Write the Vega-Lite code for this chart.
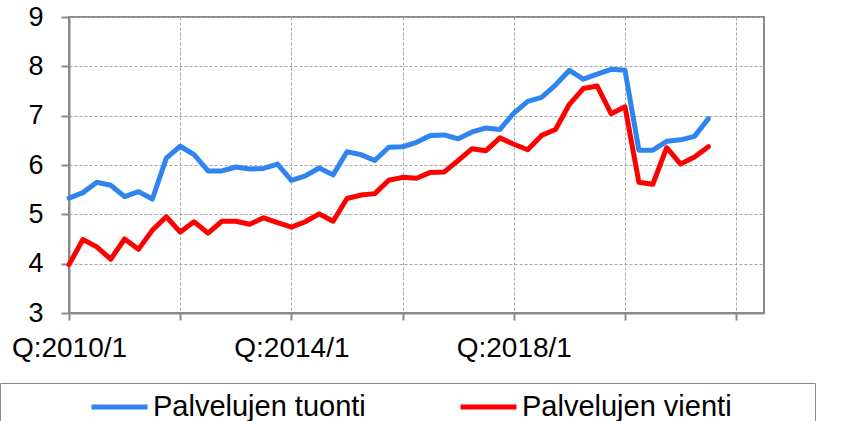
{
  "$schema": "https://vega.github.io/schema/vega-lite/v6.json",
  "width": 695,
  "height": 296,
  "autosize": "none",
  "padding": {"left": 69, "top": 17, "right": 90, "bottom": 108},
  "background": "white",
  "config": {
    "font": "Liberation Sans",
    "view": {"stroke": "#8a8a8a", "strokeWidth": 2},
    "axis": {
      "domainColor": "#8a8a8a",
      "domainWidth": 2,
      "tickColor": "#8a8a8a",
      "tickWidth": 2,
      "gridColor": "#a6a6a6",
      "gridDash": [3, 2],
      "gridWidth": 1,
      "labelColor": "#000000",
      "labelFontSize": 27,
      "labelFont": "Liberation Sans",
      "title": null
    }
  },
  "data": {
    "values": [
      {"t": 0, "quarter": "2010/1", "Palvelujen tuonti": 5.33, "Palvelujen vienti": 3.98},
      {"t": 1, "quarter": "2010/2", "Palvelujen tuonti": 5.44, "Palvelujen vienti": 4.49},
      {"t": 2, "quarter": "2010/3", "Palvelujen tuonti": 5.65, "Palvelujen vienti": 4.34},
      {"t": 3, "quarter": "2010/4", "Palvelujen tuonti": 5.59, "Palvelujen vienti": 4.09},
      {"t": 4, "quarter": "2011/1", "Palvelujen tuonti": 5.36, "Palvelujen vienti": 4.50},
      {"t": 5, "quarter": "2011/2", "Palvelujen tuonti": 5.46, "Palvelujen vienti": 4.29},
      {"t": 6, "quarter": "2011/3", "Palvelujen tuonti": 5.31, "Palvelujen vienti": 4.68},
      {"t": 7, "quarter": "2011/4", "Palvelujen tuonti": 6.14, "Palvelujen vienti": 4.95},
      {"t": 8, "quarter": "2012/1", "Palvelujen tuonti": 6.38, "Palvelujen vienti": 4.64},
      {"t": 9, "quarter": "2012/2", "Palvelujen tuonti": 6.21, "Palvelujen vienti": 4.85},
      {"t": 10, "quarter": "2012/3", "Palvelujen tuonti": 5.88, "Palvelujen vienti": 4.62},
      {"t": 11, "quarter": "2012/4", "Palvelujen tuonti": 5.88, "Palvelujen vienti": 4.86},
      {"t": 12, "quarter": "2013/1", "Palvelujen tuonti": 5.96, "Palvelujen vienti": 4.86},
      {"t": 13, "quarter": "2013/2", "Palvelujen tuonti": 5.92, "Palvelujen vienti": 4.80},
      {"t": 14, "quarter": "2013/3", "Palvelujen tuonti": 5.93, "Palvelujen vienti": 4.93},
      {"t": 15, "quarter": "2013/4", "Palvelujen tuonti": 6.02, "Palvelujen vienti": 4.83},
      {"t": 16, "quarter": "2014/1", "Palvelujen tuonti": 5.69, "Palvelujen vienti": 4.74},
      {"t": 17, "quarter": "2014/2", "Palvelujen tuonti": 5.78, "Palvelujen vienti": 4.85},
      {"t": 18, "quarter": "2014/3", "Palvelujen tuonti": 5.94, "Palvelujen vienti": 5.01},
      {"t": 19, "quarter": "2014/4", "Palvelujen tuonti": 5.80, "Palvelujen vienti": 4.86},
      {"t": 20, "quarter": "2015/1", "Palvelujen tuonti": 6.27, "Palvelujen vienti": 5.32},
      {"t": 21, "quarter": "2015/2", "Palvelujen tuonti": 6.21, "Palvelujen vienti": 5.39},
      {"t": 22, "quarter": "2015/3", "Palvelujen tuonti": 6.09, "Palvelujen vienti": 5.42},
      {"t": 23, "quarter": "2015/4", "Palvelujen tuonti": 6.36, "Palvelujen vienti": 5.69},
      {"t": 24, "quarter": "2016/1", "Palvelujen tuonti": 6.37, "Palvelujen vienti": 5.75},
      {"t": 25, "quarter": "2016/2", "Palvelujen tuonti": 6.46, "Palvelujen vienti": 5.73},
      {"t": 26, "quarter": "2016/3", "Palvelujen tuonti": 6.60, "Palvelujen vienti": 5.85},
      {"t": 27, "quarter": "2016/4", "Palvelujen tuonti": 6.61, "Palvelujen vienti": 5.86},
      {"t": 28, "quarter": "2017/1", "Palvelujen tuonti": 6.53, "Palvelujen vienti": 6.09},
      {"t": 29, "quarter": "2017/2", "Palvelujen tuonti": 6.67, "Palvelujen vienti": 6.33},
      {"t": 30, "quarter": "2017/3", "Palvelujen tuonti": 6.75, "Palvelujen vienti": 6.29},
      {"t": 31, "quarter": "2017/4", "Palvelujen tuonti": 6.72, "Palvelujen vienti": 6.55},
      {"t": 32, "quarter": "2018/1", "Palvelujen tuonti": 7.05, "Palvelujen vienti": 6.42},
      {"t": 33, "quarter": "2018/2", "Palvelujen tuonti": 7.29, "Palvelujen vienti": 6.31},
      {"t": 34, "quarter": "2018/3", "Palvelujen tuonti": 7.37, "Palvelujen vienti": 6.60},
      {"t": 35, "quarter": "2018/4", "Palvelujen tuonti": 7.62, "Palvelujen vienti": 6.72},
      {"t": 36, "quarter": "2019/1", "Palvelujen tuonti": 7.92, "Palvelujen vienti": 7.23},
      {"t": 37, "quarter": "2019/2", "Palvelujen tuonti": 7.74, "Palvelujen vienti": 7.55},
      {"t": 38, "quarter": "2019/3", "Palvelujen tuonti": 7.84, "Palvelujen vienti": 7.60},
      {"t": 39, "quarter": "2019/4", "Palvelujen tuonti": 7.94, "Palvelujen vienti": 7.04},
      {"t": 40, "quarter": "2020/1", "Palvelujen tuonti": 7.92, "Palvelujen vienti": 7.18},
      {"t": 41, "quarter": "2020/2", "Palvelujen tuonti": 6.30, "Palvelujen vienti": 5.65},
      {"t": 42, "quarter": "2020/3", "Palvelujen tuonti": 6.30, "Palvelujen vienti": 5.61},
      {"t": 43, "quarter": "2020/4", "Palvelujen tuonti": 6.48, "Palvelujen vienti": 6.35},
      {"t": 44, "quarter": "2021/1", "Palvelujen tuonti": 6.51, "Palvelujen vienti": 6.02},
      {"t": 45, "quarter": "2021/2", "Palvelujen tuonti": 6.58, "Palvelujen vienti": 6.16},
      {"t": 46, "quarter": "2021/3", "Palvelujen tuonti": 6.94, "Palvelujen vienti": 6.37}
    ]
  },
  "transform": [
    {"fold": ["Palvelujen tuonti", "Palvelujen vienti"], "as": ["series", "value"]}
  ],
  "mark": {"type": "line", "strokeWidth": 5, "strokeJoin": "round", "strokeCap": "round"},
  "encoding": {
    "x": {
      "field": "t",
      "type": "quantitative",
      "scale": {"domain": [0, 50], "nice": false, "zero": false},
      "axis": {
        "values": [0, 8, 16, 24, 32, 40, 48],
        "labelExpr": "(datum.value % 16 === 0 && datum.value < 48) ? 'Q:' + (2010 + datum.value / 4) + '/1' : ''",
        "labelFontSize": 28,
        "tickSize": 7,
        "labelPadding": 14,
        "labelFlush": false,
        "labelOverlap": false
      }
    },
    "y": {
      "field": "value",
      "type": "quantitative",
      "scale": {"domain": [3, 9], "nice": false, "zero": false},
      "axis": {
        "values": [3, 4, 5, 6, 7, 8, 9],
        "tickSize": 8,
        "labelPadding": 18
      }
    },
    "color": {
      "field": "series",
      "type": "nominal",
      "scale": {"domain": ["Palvelujen tuonti", "Palvelujen vienti"], "range": ["#2f84f0", "#ff0000"]},
      "legend": {
        "orient": "none",
        "direction": "horizontal",
        "legendX": -69,
        "legendY": 366,
        "title": " ",
        "titleOrient": "left",
        "titleFontSize": 1,
        "titleColor": "white",
        "titlePadding": 79,
        "padding": 10,
        "strokeColor": "#8a8a8a",
        "symbolType": "stroke",
        "symbolSize": 3136,
        "symbolStrokeWidth": 5,
        "clipHeight": 28,
        "labelFontSize": 29,
        "labelFont": "Liberation Sans",
        "labelColor": "#000000",
        "labelLimit": 0,
        "labelOffset": 3,
        "columnPadding": 92,
        "labelExpr": "datum.label === 'Palvelujen vienti' ? datum.label + '\u00a0\u00a0\u00a0\u00a0\u00a0\u00a0\u00a0\u00a0\u00a0\u200b' : datum.label"
      }
    }
  }
}
